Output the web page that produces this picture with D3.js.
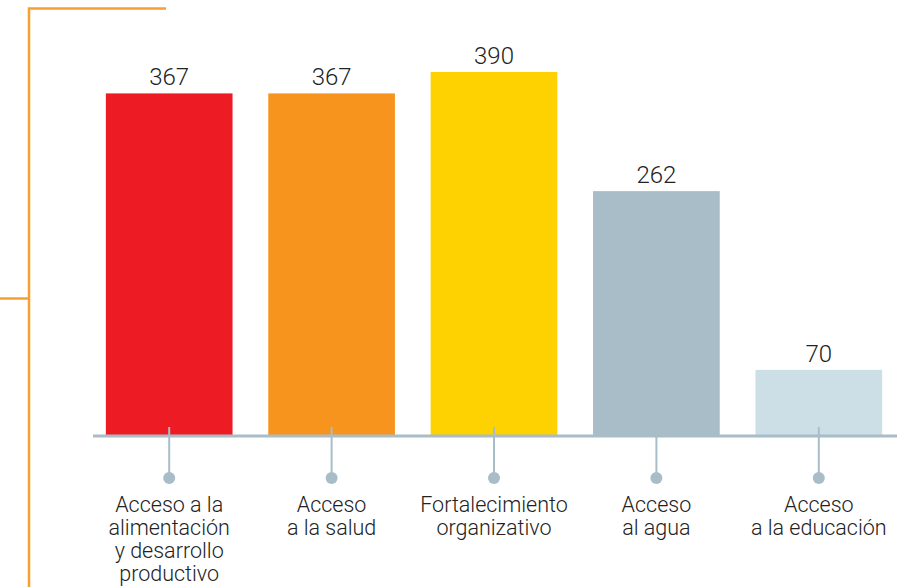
<!DOCTYPE html>
<html>
<head>
<meta charset="utf-8">
<script src="https://cdn.jsdelivr.net/npm/d3@7"></script>
<style>
  html, body { margin: 0; padding: 0; background: #fff; }
</style>
</head>
<body>
<div id="wrapper"></div>
<script>
// data
const categories = [
  "Acceso a la alimentación y desarrollo productivo",
  "Acceso a la salud",
  "Fortalecimiento organizativo",
  "Acceso al agua",
  "Acceso a la educación"
];
const labelLines = [
  ["Acceso a la", "alimentación", "y desarrollo", "productivo"],
  ["Acceso", "a la salud"],
  ["Fortalecimiento", "organizativo"],
  ["Acceso", "al agua"],
  ["Acceso", "a la educación"]
];
const values = [367, 367, 390, 262, 70];
const colors = ["#ed1c24", "#f7941d", "#fed100", "#a8bdc7", "#cddfe6"];

const width = 909;
const height = 587;
const baseY = 435;

let svg = d3.select("#wrapper")
  .append("svg")
    .attr("width", width)
    .attr("height", height)
    .style("font-family", "Roboto, 'Liberation Sans', Arial, sans-serif")
    .style("font-weight", 300);

// orange bracket on the left
const bracket = svg.append("g")
  .attr("stroke", "#f7a030")
  .attr("stroke-width", 2.5)
  .attr("fill", "none");
bracket.append("path").attr("d", "M166,8.5 H29 V587");
bracket.append("path").attr("d", "M0,298.5 H28");

let x = d3.scaleBand()
  .domain(categories)
  .range([88, 900])
  .paddingInner(0.22)
  .paddingOuter(0.11);

let y = d3.scaleLinear()
  .domain([0, 390])
  .range([baseY, 72]);

// bars
svg.append("g")
  .selectAll("rect")
  .data(values)
  .join("rect")
    .attr("x", (d, i) => x(categories[i]))
    .attr("y", d => y(d))
    .attr("width", x.bandwidth())
    .attr("height", d => baseY - y(d))
    .attr("fill", (d, i) => colors[i]);

// value labels
svg.append("g")
  .selectAll("text")
  .data(values)
  .join("text")
    .attr("x", (d, i) => x(categories[i]) + x.bandwidth() / 2)
    .attr("y", d => y(d) - 8)
    .attr("text-anchor", "middle")
    .attr("font-size", 24)
    .attr("fill", "#222")
    .text(d => d);

// baseline
svg.append("line")
  .attr("x1", 93).attr("x2", 897)
  .attr("y1", baseY + 1).attr("y2", baseY + 1)
  .attr("stroke", "#a8bdc7")
  .attr("stroke-width", 3);

// tick stems and dots
const ticks = svg.append("g").attr("stroke", "#a8bdc7").attr("fill", "#a8bdc7");
categories.forEach(c => {
  const cx = x(c) + x.bandwidth() / 2;
  ticks.append("line")
    .attr("x1", cx).attr("x2", cx)
    .attr("y1", baseY - 8).attr("y2", 477)
    .attr("stroke-width", 2);
  ticks.append("circle")
    .attr("cx", cx).attr("cy", 478)
    .attr("r", 6)
    .attr("stroke", "none");
});

// category labels
const labels = svg.append("g")
  .attr("text-anchor", "middle")
  .attr("font-size", 21.5)
  .attr("fill", "#222");
categories.forEach((c, i) => {
  const t = labels.append("text")
    .attr("x", x(c) + x.bandwidth() / 2)
    .attr("y", 512);
  labelLines[i].forEach((line, j) => {
    t.append("tspan")
      .attr("x", x(c) + x.bandwidth() / 2)
      .attr("dy", j ? 23 : 0)
      .text(line);
  });
});
</script>
</body>
</html>
